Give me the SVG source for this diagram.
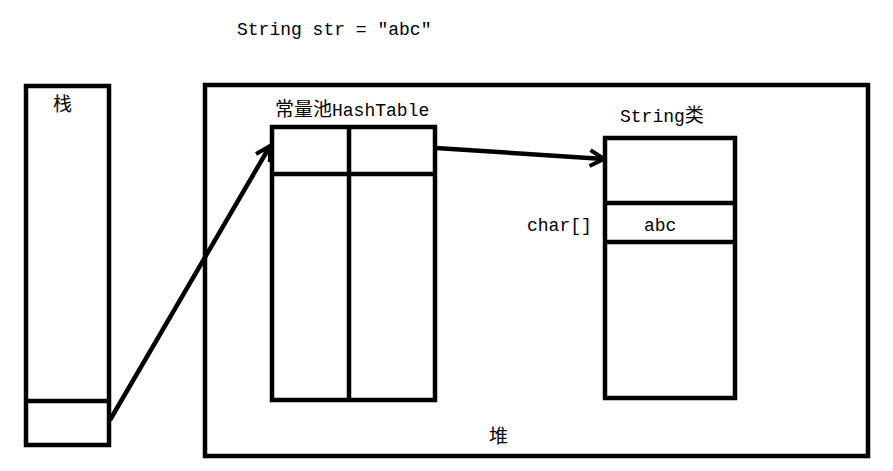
<svg xmlns="http://www.w3.org/2000/svg" width="893" height="471" viewBox="0 0 893 471">
<defs>
<style>
.box{fill:none;stroke:#000;stroke-width:4.5}
.ln{stroke:#000;stroke-width:4.5;fill:none}
.t{font-family:"Liberation Mono","Noto Sans CJK SC",monospace;font-size:18px;fill:#000}
.c{font-family:"Noto Sans CJK SC",sans-serif;font-size:19px}
</style>
<marker id="ah" viewBox="0 0 20 20" refX="18" refY="10" markerWidth="20" markerHeight="20" markerUnits="userSpaceOnUse" orient="auto">
<polyline points="4,2 18,10 4,18" fill="none" stroke="#000" stroke-width="4"/>
</marker>
</defs>
<rect width="893" height="471" fill="#fff"/>
<text class="t" x="237" y="35">String str = ″abc″</text>
<g id="stack">
<rect class="box" x="26" y="86" width="83" height="359"/>
<line class="ln" x1="26" y1="401" x2="109" y2="401"/>
<text class="t" x="53" y="111"><tspan class="c">栈</tspan></text>
</g>
<g id="heap">
<rect class="box" x="205" y="85" width="663" height="371"/>
<text class="t" x="489" y="443"><tspan class="c">堆</tspan></text>
</g>
<g id="hashtable">
<rect class="box" x="272" y="127" width="163" height="273"/>
<line class="ln" x1="349" y1="127" x2="349" y2="400"/>
<line class="ln" x1="272" y1="174" x2="435" y2="174"/>
<text class="t" x="275" y="116"><tspan class="c">常量池</tspan>HashTable</text>
</g>
<g id="stringclass">
<rect class="box" x="605" y="138" width="130" height="260"/>
<line class="ln" x1="605" y1="203" x2="735" y2="203"/>
<line class="ln" x1="605" y1="242" x2="735" y2="242"/>
<text class="t" x="620" y="122">String<tspan class="c">类</tspan></text>
<text class="t" x="527" y="231">char[]</text>
<text class="t" x="644" y="231">abc</text>
</g>
<g id="connectors">
<line class="ln" x1="110" y1="420" x2="270" y2="146" marker-end="url(#ah)"/>
<line class="ln" x1="436" y1="148" x2="604" y2="159" marker-end="url(#ah)"/>
</g>
</svg>
